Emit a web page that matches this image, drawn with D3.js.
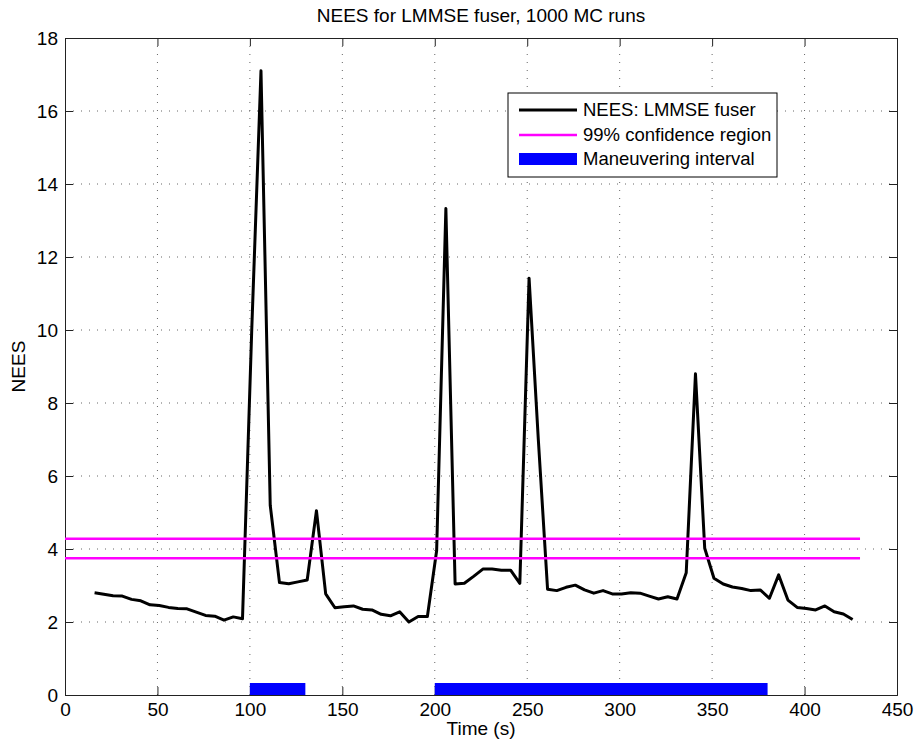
<!DOCTYPE html>
<html>
<head>
<meta charset="utf-8">
<script src="https://cdn.jsdelivr.net/npm/d3@7"></script>
<style>
  body { margin: 0; background: #fff; }
  text { font-family: "Liberation Sans", Arial, Helvetica, sans-serif; fill: #000; }
</style>
</head>
<body>
<div id="chart"></div>
<script>
// sample times (s) and NEES values
const times = [16, 21, 26, 31, 36, 41, 46, 51, 56, 61, 66, 71, 76, 81, 86, 91, 96,
    101, 106, 111, 116, 121, 126, 131, 136, 141, 146, 151, 156, 161, 166, 171, 176, 181, 186, 191, 196,
    201, 206, 211, 216, 221, 226, 231, 236, 241, 246, 251, 256, 261, 266, 271, 276, 281, 286, 291, 296,
    301, 306, 311, 316, 321, 326, 331, 336, 341, 346, 351, 356, 361, 366, 371, 376, 381, 386, 391, 396,
    401, 406, 411, 416, 421, 426];
const nees = [2.80, 2.76, 2.72, 2.71, 2.62, 2.58, 2.47, 2.45, 2.40, 2.37, 2.36, 2.27, 2.18, 2.16, 2.05, 2.14, 2.09,
    10.0, 17.1, 5.2, 3.08, 3.05, 3.10, 3.15, 5.05, 2.77, 2.39, 2.42, 2.44, 2.35, 2.33, 2.21, 2.17, 2.28, 2.00, 2.15, 2.15,
    3.95, 13.33, 3.04, 3.06, 3.25, 3.45, 3.45, 3.42, 3.42, 3.06, 11.42, 7.0, 2.90, 2.86, 2.95, 3.01, 2.88, 2.79, 2.86, 2.77,
    2.77, 2.80, 2.79, 2.71, 2.63, 2.69, 2.63, 3.35, 8.8, 4.02, 3.20, 3.04, 2.96, 2.92, 2.86, 2.88, 2.65, 3.29, 2.60, 2.40,
    2.37, 2.33, 2.44, 2.28, 2.22, 2.07];

// 99% confidence bounds and their time span
const confBounds = [3.75, 4.28];
const confSpan = [0, 430];

// maneuvering intervals (s)
const maneuvers = [[100, 130], [200, 380]];

const xTicks = [0, 50, 100, 150, 200, 250, 300, 350, 400, 450];
const yTicks = [0, 2, 4, 6, 8, 10, 12, 14, 16, 18];

const legendLabels = ["NEES: LMMSE fuser", "99% confidence region", "Maneuvering interval"];

const width = 914, height = 740;
const margin = {top: 38, right: 17, bottom: 45, left: 65};
const fontSize = 19;

const svg = d3.select("#chart").append("svg")
    .attr("width", width)
    .attr("height", height);

const x = d3.scaleLinear().domain([0, 450]).range([margin.left, width - margin.right]);
const y = d3.scaleLinear().domain([0, 18]).range([height - margin.bottom, margin.top]);

// grid
svg.append("g").selectAll("line")
    .data(xTicks.slice(1, -1))
    .enter().append("line")
    .attr("x1", d => x(d)).attr("x2", d => x(d))
    .attr("y1", y(0)).attr("y2", y(18))
    .attr("stroke", "#666").attr("stroke-width", 1)
    .attr("stroke-dasharray", "1,7");

svg.append("g").selectAll("line")
    .data(yTicks.slice(1, -1))
    .enter().append("line")
    .attr("x1", x(0)).attr("x2", x(450))
    .attr("y1", d => y(d)).attr("y2", d => y(d))
    .attr("stroke", "#666").attr("stroke-width", 1)
    .attr("stroke-dasharray", "1,7");

// axes, ticks inward on all four sides
const tickLen = 8;
svg.append("g")
    .attr("transform", `translate(0,${y(0)})`)
    .call(d3.axisBottom(x).tickValues(xTicks).tickSize(-tickLen).tickPadding(8).tickFormat(d3.format("d")));
svg.append("g")
    .attr("transform", `translate(0,${y(18)})`)
    .call(d3.axisTop(x).tickValues(xTicks).tickSize(-tickLen).tickFormat(""));
svg.append("g")
    .attr("transform", `translate(${x(0)},0)`)
    .call(d3.axisLeft(y).tickValues(yTicks).tickSize(-tickLen).tickPadding(7).tickFormat(d3.format("d")));
svg.append("g")
    .attr("transform", `translate(${x(450)},0)`)
    .call(d3.axisRight(y).tickValues(yTicks).tickSize(-tickLen).tickFormat(""));

svg.selectAll(".domain").attr("stroke", "#222").attr("stroke-width", 1);
svg.selectAll(".tick line").attr("stroke", "#222");
svg.selectAll(".tick text")
    .style("font-size", fontSize + "px")
    .style("font-family", "'Liberation Sans', Arial, sans-serif")
    .attr("fill", "#000");

// NEES curve
const points = times.map((t, i) => [t, nees[i]]);
svg.append("path")
    .datum(points)
    .attr("fill", "none")
    .attr("stroke", "#000")
    .attr("stroke-width", 3)
    .attr("stroke-linejoin", "round")
    .attr("d", d3.line().x(d => x(d[0])).y(d => y(d[1])));

// confidence bounds
svg.append("g").selectAll("line")
    .data(confBounds)
    .enter().append("line")
    .attr("x1", x(confSpan[0])).attr("x2", x(confSpan[1]))
    .attr("y1", d => y(d)).attr("y2", d => y(d))
    .attr("stroke", "#ff00ff").attr("stroke-width", 2.5);

// maneuvering intervals
const bandH = 12;
svg.append("g").selectAll("rect")
    .data(maneuvers)
    .enter().append("rect")
    .attr("x", d => x(d[0]))
    .attr("width", d => x(d[1]) - x(d[0]))
    .attr("y", y(0) - bandH)
    .attr("height", bandH)
    .attr("fill", "#0000ff");

// title and labels
svg.append("text")
    .attr("x", (x(0) + x(450)) / 2).attr("y", 22)
    .attr("text-anchor", "middle")
    .style("font-size", fontSize + "px")
    .text("NEES for LMMSE fuser, 1000 MC runs");

svg.append("text")
    .attr("x", (x(0) + x(450)) / 2).attr("y", 735)
    .attr("text-anchor", "middle")
    .style("font-size", fontSize + "px")
    .text("Time (s)");

svg.append("text")
    .attr("transform", `translate(25,${(y(0) + y(18)) / 2}) rotate(-90)`)
    .attr("text-anchor", "middle")
    .style("font-size", fontSize + "px")
    .text("NEES");

// legend
const lg = svg.append("g").attr("transform", "translate(508,93)");
lg.append("rect")
    .attr("width", 269).attr("height", 84)
    .attr("fill", "#fff").attr("stroke", "#000").attr("stroke-width", 1);

const rowY = [17, 42, 66];
lg.append("line").attr("x1", 11).attr("x2", 69).attr("y1", rowY[0]).attr("y2", rowY[0])
    .attr("stroke", "#000").attr("stroke-width", 3);
lg.append("line").attr("x1", 11).attr("x2", 69).attr("y1", rowY[1]).attr("y2", rowY[1])
    .attr("stroke", "#ff00ff").attr("stroke-width", 2.5);
lg.append("rect").attr("x", 11).attr("width", 58).attr("y", rowY[2] - 6).attr("height", 12)
    .attr("fill", "#0000ff");

lg.selectAll("text.lab")
    .data(legendLabels)
    .enter().append("text")
    .attr("class", "lab")
    .attr("x", 75)
    .attr("y", (d, i) => rowY[i])
    .attr("dy", "0.35em")
    .style("font-size", "18.5px")
    .text(d => d);
</script>
</body>
</html>
